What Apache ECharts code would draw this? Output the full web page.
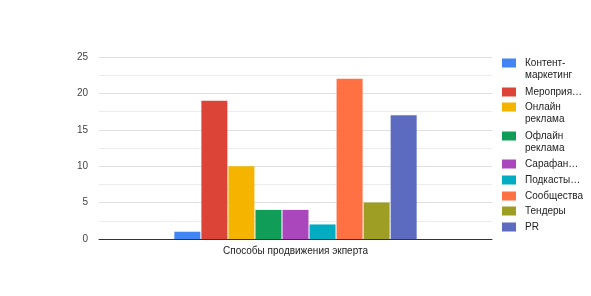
<!DOCTYPE html>
<html>
<head>
<meta charset="utf-8">
<script src="https://cdn.jsdelivr.net/npm/echarts@6/dist/echarts.min.js"></script>
<style>html,body{margin:0;padding:0;background:#fff;}#c{width:591px;height:296px;}</style>
</head>
<body>
<div id="c"></div>
<script>
const categories = ['Способы продвижения экперта'];
const seriesNames = ['Контент-маркетинг', 'Мероприятия', 'Онлайн реклама', 'Офлайн реклама', 'Сарафанное радио', 'Подкасты', 'Сообщества', 'Тендеры', 'PR'];
const legendLabels = ['Контент-\nмаркетинг', 'Мероприя…', 'Онлайн\nреклама', 'Офлайн\nреклама', 'Сарафан…', 'Подкасты…', 'Сообщества', 'Тендеры', 'PR'];
const seriesValues = [1, 19, 10, 4, 4, 2, 22, 5, 17];
const colors = ['#4285f4', '#db4437', '#f4b400', '#0f9d58', '#ab47bc', '#00acc1', '#ff7043', '#9e9d24', '#5c6bc0'];
const yTicks = [0, 5, 10, 15, 20, 25];

(function () {
const chart = echarts.init(document.getElementById('c'));
const legends = [];
let legTop = 57;
seriesNames.forEach((n, i) => {
  const lines = legendLabels[i].split('\n').length;
  const two = lines > 1;
  legends.push({
    orient: 'vertical',
    left: 502,
    top: Math.round(legTop),
    itemWidth: 14,
    itemHeight: two ? 21 : 9,
    icon: two ? 'path://M0,0L14,0L14,9L0,9Z M0,21L0,21' : 'rect',
    itemGap: 0,
    padding: 0,
    selectedMode: false,
    data: [n],
    formatter: () => legendLabels[i],
    textStyle: { fontSize: 10, color: '#222', fontFamily: 'Liberation Sans, Arial, sans-serif', lineHeight: 12, padding: [0, 0, 0, 4] }
  });
  legTop += 15.6 + (lines - 1) * 13;
});

chart.setOption({
  animation: false,
  color: colors,
  grid: { left: 99, right: 99, top: 57, bottom: 57 },
  legend: legends,
  xAxis: {
    type: 'category',
    data: categories,
    axisLine: { lineStyle: { color: '#333', width: 1 } },
    axisTick: { show: false },
    axisLabel: { fontSize: 10, color: '#222', margin: 7, fontFamily: 'Liberation Sans, Arial, sans-serif' }
  },
  yAxis: {
    type: 'value',
    min: yTicks[0],
    max: yTicks[yTicks.length - 1],
    interval: 5,
    axisLine: { show: false },
    axisTick: { show: false },
    axisLabel: { fontSize: 10, color: '#444', margin: 11, fontFamily: 'Liberation Sans, Arial, sans-serif' },
    splitLine: { lineStyle: { color: '#e0e0e0' } },
    minorTick: { show: false, splitNumber: 2 },
    minorSplitLine: { show: true, lineStyle: { color: '#ececec' } }
  },
  series: seriesNames.map((n, i) => ({
    name: n,
    type: 'bar',
    barWidth: 26,
    barGap: '4%',
    data: [seriesValues[i]]
  }))
});
})();
</script>
</body>
</html>
